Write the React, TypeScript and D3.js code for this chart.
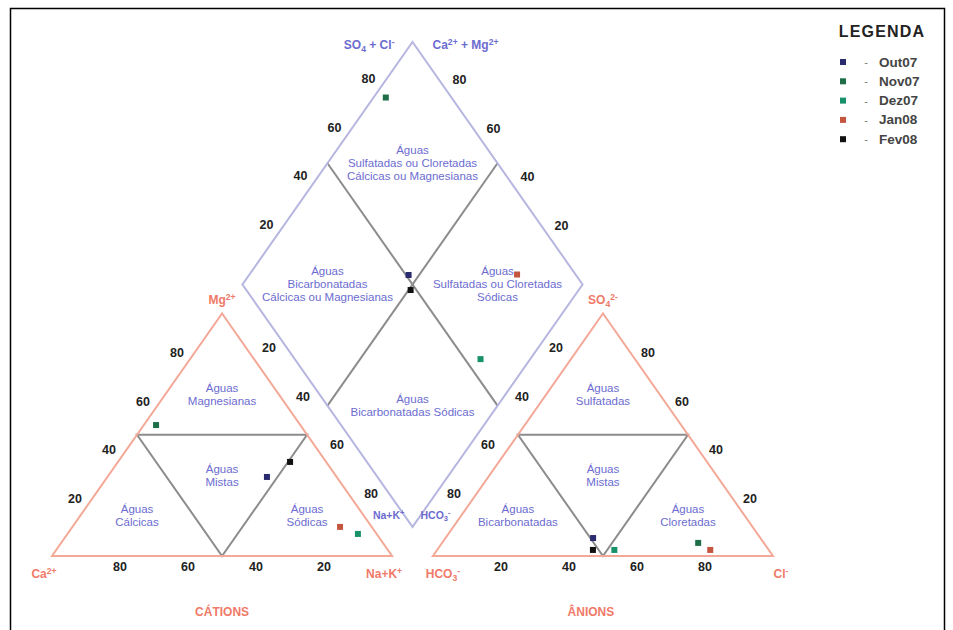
import * as d3 from "d3";

// samples shown in the legend
const samples = ["Out07", "Nov07", "Dez07", "Jan08", "Fev08"];
const sampleColors = ["#2a2a6e", "#1e6e48", "#17916a", "#c4553f", "#111111"];

// cations, % of meq/L
const caPct = [20.5, 42.4, 5.5, 9.3, 10.6];
const mgPct = [32.6, 54.0, 9.1, 12.0, 38.8];
const naKPct = [46.9, 3.6, 85.4, 78.7, 50.6];

// anions, % of meq/L
const hco3Pct = [49.2, 19.3, 45.4, 17.2, 51.7];
const so4Pct = [7.4, 5.4, 2.5, 2.5, 2.5];
const clPct = [43.4, 75.3, 52.1, 80.3, 45.8];

const tickValues = [20, 40, 60, 80];

// piper geometry, in triangle units (side = 100)
const SIDE = 100;
const GAP = 12;
const TH = (SIDE * Math.sqrt(3)) / 2;
const DB = (GAP / 2) * Math.sqrt(3);
const AX = SIDE + GAP;
const DX = SIDE + GAP / 2;

const x = d3.scaleLinear().domain([0, 2 * SIDE + GAP]).range([52, 773]);
const y = d3.scaleLinear().domain([0, DB + 2 * TH]).range([556, 42]);

type P = [number, number];

const cat = (ca: number, mg: number, na: number): P => [
  ((na + mg / 2) * SIDE) / 100,
  (mg * TH) / 100,
];
const ani = (h: number, s: number, c: number): P => [
  AX + ((c + s / 2) * SIDE) / 100,
  (s * TH) / 100,
];
const dia = (cm: number, sc: number): P => [
  DX + (((sc - cm) / 2) * SIDE) / 100,
  DB + ((cm + sc) * TH) / 100,
];

const line = d3
  .line<P>()
  .x((d) => x(d[0]))
  .y((d) => y(d[1]));

const centroid = (pts: P[]): P => [
  d3.mean(pts, (p) => p[0]) ?? 0,
  d3.mean(pts, (p) => p[1]) ?? 0,
];

const TRI = "#f4a898";
const DIA = "#b6b6e0";
const INNER = "#8c8c8c";
const BLUE = "#6c6cd0";
const RED = "#f07a68";
const FONT = "'Liberation Sans', Arial, sans-serif";

type Part = [string, "" | "sub" | "sup"];

function Chem({
  at,
  parts,
  color,
  size = 12,
  anchor = "middle",
}: {
  at: [number, number];
  parts: Part[];
  color: string;
  size?: number;
  anchor?: string;
}) {
  return (
    <text
      x={at[0]}
      y={at[1]}
      fill={color}
      fontSize={size}
      fontWeight="bold"
      textAnchor={anchor as any}
      fontFamily={FONT}
    >
      {parts.map(([t, k], i) => (
        <tspan
          key={i}
          fontSize={k ? size * 0.72 : size}
          baselineShift={k === "sup" ? "45%" : k === "sub" ? "-30%" : "0"}
        >
          {t}
        </tspan>
      ))}
    </text>
  );
}

function Region({ at, lines }: { at: P; lines: string[] }) {
  const cx = x(at[0]);
  const cy = y(at[1]) - ((lines.length - 1) * 13) / 2;
  return (
    <text
      x={cx}
      y={cy}
      fill={BLUE}
      fontSize={11.5}
      textAnchor="middle"
      dominantBaseline="central"
      fontFamily={FONT}
    >
      {lines.map((l, i) => (
        <tspan key={i} x={cx} dy={i === 0 ? 0 : 13}>
          {l}
        </tspan>
      ))}
    </text>
  );
}

function Ticks({
  at,
  dx,
  dy,
}: {
  at: (t: number) => P;
  dx: number;
  dy: number;
}) {
  return (
    <g>
      {tickValues.map((t) => {
        const p = at(t);
        return (
          <text
            key={t}
            x={x(p[0]) + dx}
            y={y(p[1]) + dy}
            fontSize={12.5}
            fontWeight="bold"
            fill="#222"
            textAnchor="middle"
            dominantBaseline="central"
            fontFamily={FONT}
          >
            {t}
          </text>
        );
      })}
    </g>
  );
}

export default function App() {
  const catTri: P[] = [cat(100, 0, 0), cat(0, 0, 100), cat(0, 100, 0)];
  const aniTri: P[] = [ani(100, 0, 0), ani(0, 0, 100), ani(0, 100, 0)];
  const catMid: P[] = [cat(50, 50, 0), cat(0, 50, 50), cat(50, 0, 50)];
  const aniMid: P[] = [ani(50, 50, 0), ani(0, 50, 50), ani(50, 0, 50)];
  const diamond: P[] = [dia(0, 0), dia(100, 0), dia(100, 100), dia(0, 100)];
  const dCenter = dia(50, 50);

  const points = samples.map((s, i) => ({
    name: s,
    color: sampleColors[i],
    c: cat(caPct[i], mgPct[i], naKPct[i]),
    a: ani(hco3Pct[i], so4Pct[i], clPct[i]),
    d: dia(caPct[i] + mgPct[i], so4Pct[i] + clPct[i]),
  }));

  const M = 6;

  return (
    <>
      <style>{`body{margin:0;background:#fff}`}</style>
      <svg width={953} height={630} style={{ display: "block" }}>
        <rect x={10.5} y={8.5} width={934} height={640} fill="#fff" stroke="#000" strokeWidth={1.5} />

        {/* inner subdivisions */}
        <path d={line(catMid) + "Z"} fill="none" stroke={INNER} strokeWidth={2} />
        <path d={line(aniMid) + "Z"} fill="none" stroke={INNER} strokeWidth={2} />
        <path d={line([dia(50, 0), dia(50, 100)]) ?? ""} stroke={INNER} strokeWidth={2} />
        <path d={line([dia(0, 50), dia(100, 50)]) ?? ""} stroke={INNER} strokeWidth={2} />

        {/* outlines */}
        <path d={line(diamond) + "Z"} fill="none" stroke={DIA} strokeWidth={2} />
        <path d={line(catTri) + "Z"} fill="none" stroke={TRI} strokeWidth={2} />
        <path d={line(aniTri) + "Z"} fill="none" stroke={TRI} strokeWidth={2} />

        {/* tick labels */}
        <Ticks at={(t) => cat(100 - t, t, 0)} dx={-11} dy={-9} />
        <Ticks at={(t) => cat(t, 0, 100 - t)} dx={0} dy={11} />
        <Ticks at={(t) => cat(0, 100 - t, t)} dx={13} dy={-14} />
        <Ticks at={(t) => ani(t, 100 - t, 0)} dx={-13} dy={-14} />
        <Ticks at={(t) => ani(100 - t, 0, t)} dx={0} dy={11} />
        <Ticks at={(t) => ani(0, t, 100 - t)} dx={11} dy={-9} />
        <Ticks at={(t) => dia(100, t)} dx={-10} dy={-11} />
        <Ticks at={(t) => dia(t, 100)} dx={13} dy={-10} />

        {/* region names */}
        <Region at={centroid([catMid[0], catMid[1], catTri[2]])} lines={["Águas", "Magnesianas"]} />
        <Region at={centroid(catMid)} lines={["Águas", "Mistas"]} />
        <Region at={centroid([catTri[0], catMid[2], catMid[0]])} lines={["Águas", "Cálcicas"]} />
        <Region at={centroid([catMid[2], catTri[1], catMid[1]])} lines={["Águas", "Sódicas"]} />
        <Region at={centroid([aniMid[0], aniMid[1], aniTri[2]])} lines={["Águas", "Sulfatadas"]} />
        <Region at={centroid(aniMid)} lines={["Águas", "Mistas"]} />
        <Region at={centroid([aniTri[0], aniMid[2], aniMid[0]])} lines={["Águas", "Bicarbonatadas"]} />
        <Region at={centroid([aniMid[2], aniTri[1], aniMid[1]])} lines={["Águas", "Cloretadas"]} />
        <Region at={centroid([diamond[2], dCenter])} lines={["Águas", "Sulfatadas ou Cloretadas", "Cálcicas ou Magnesianas"]} />
        <Region at={centroid([diamond[1], dCenter])} lines={["Águas", "Bicarbonatadas", "Cálcicas ou Magnesianas"]} />
        <Region at={centroid([diamond[3], dCenter])} lines={["Águas", "Sulfatadas ou Cloretadas", "Sódicas"]} />
        <Region at={centroid([diamond[0], dCenter])} lines={["Águas", "Bicarbonatadas Sódicas"]} />

        {/* corner labels */}
        <Chem at={[x(catTri[2][0]), y(catTri[2][1]) - 10]} color={RED} parts={[["Mg", ""], ["2+", "sup"]]} />
        <Chem at={[x(catTri[0][0]) - 8, y(0) + 22]} color={RED} parts={[["Ca", ""], ["2+", "sup"]]} />
        <Chem at={[x(catTri[1][0]) - 8, y(0) + 22]} color={RED} parts={[["Na+K", ""], ["+", "sup"]]} />
        <Chem at={[x(aniTri[2][0]), y(aniTri[2][1]) - 10]} color={RED} parts={[["SO", ""], ["4", "sub"], ["2-", "sup"]]} />
        <Chem at={[x(aniTri[0][0]) + 10, y(0) + 22]} color={RED} parts={[["HCO", ""], ["3", "sub"], ["-", "sup"]]} />
        <Chem at={[x(aniTri[1][0]) + 8, y(0) + 22]} color={RED} parts={[["Cl", ""], ["-", "sup"]]} />
        <Chem at={[x(dia(100, 100)[0]) - 18, 49]} anchor="end" color={BLUE} size={12} parts={[["SO", ""], ["4", "sub"], [" + Cl", ""], ["-", "sup"]]} />
        <Chem at={[x(dia(100, 100)[0]) + 20, 49]} anchor="start" color={BLUE} size={12} parts={[["Ca", ""], ["2+", "sup"], [" + Mg", ""], ["2+", "sup"]]} />
        <Chem at={[x(dia(0, 0)[0]) - 8, y(dia(0, 0)[1]) - 8]} anchor="end" color={BLUE} size={10.5} parts={[["Na+K", ""], ["+", "sup"]]} />
        <Chem at={[x(dia(0, 0)[0]) + 8, y(dia(0, 0)[1]) - 8]} anchor="start" color={BLUE} size={10.5} parts={[["HCO", ""], ["3", "sub"], ["-", "sup"]]} />

        <text x={x(SIDE / 2)} y={616} fill={RED} fontSize={12} fontWeight="bold" textAnchor="middle" fontFamily={FONT}>CÁTIONS</text>
        <text x={x(AX + SIDE / 2) - 12} y={616} fill={RED} fontSize={12} fontWeight="bold" textAnchor="middle" fontFamily={FONT}>ÂNIONS</text>

        {/* samples */}
        {points.map((p) => (
          <g key={p.name} fill={p.color}>
            {[p.c, p.a, p.d].map((q, j) => (
              <rect key={j} x={x(q[0]) - M / 2} y={y(q[1]) - M / 2} width={M} height={M} />
            ))}
          </g>
        ))}

        {/* legend */}
        <text x={882} y={37} fontSize={16} fontWeight="bold" fill="#222" textAnchor="middle" letterSpacing={1.2} fontFamily={FONT}>LEGENDA</text>
        {samples.map((s, i) => {
          const ly = 62 + i * 19.3;
          return (
            <g key={s}>
              <rect x={840} y={ly - 3} width={6} height={6} fill={sampleColors[i]} />
              <text x={866} y={ly} fontSize={11} fill="#777" textAnchor="middle" dominantBaseline="central" fontFamily={FONT}>-</text>
              <text x={879} y={ly} fontSize={13.5} fontWeight="bold" fill="#444" dominantBaseline="central" fontFamily={FONT}>{s}</text>
            </g>
          );
        })}
      </svg>
    </>
  );
}
